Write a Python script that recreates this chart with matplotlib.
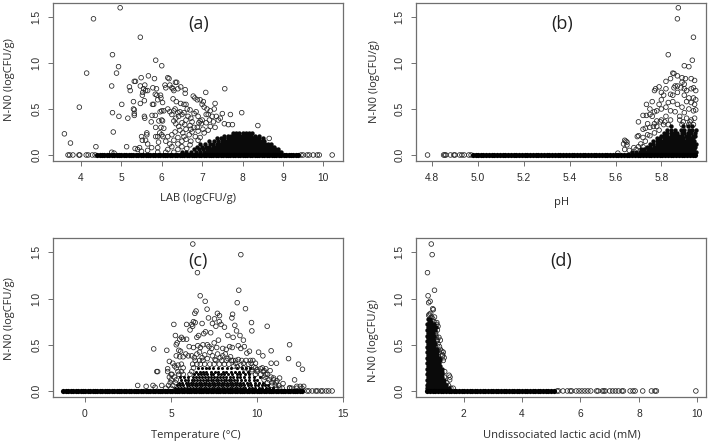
import matplotlib
matplotlib.use('Agg')
import matplotlib.pyplot as plt

plt.rcParams['font.family'] = ['Liberation Sans', 'DejaVu Sans']

W, H = 709, 444

# --- panel a: LAB ---
a_base = [4.4, 4.46, 4.52, 4.58, 4.64, 4.7, 4.76, 4.82, 4.88, 4.94,
          5.0, 5.06, 5.12, 5.18, 5.24, 5.3, 5.36, 5.42, 5.48, 5.54, 5.6, 5.66, 5.72, 5.78, 5.84, 5.9, 5.96, 6.02, 6.08,
          6.14, 6.2, 6.26, 6.32, 6.38, 6.44, 6.5, 6.56, 6.62, 6.68, 6.74, 6.8, 6.86, 6.92, 6.98, 7.04, 7.1, 7.16, 7.22,
          7.28, 7.34, 7.4, 7.46, 7.52, 7.58, 7.64, 7.7, 7.76, 7.82, 7.88, 7.94, 8.0, 8.06, 8.12, 8.18, 8.24, 8.3, 8.36,
          8.42, 8.48, 8.54, 8.6, 8.66, 8.72, 8.78, 8.84, 8.9, 8.96, 9.02, 9.08, 9.14, 9.2, 9.26, 9.32, 9.38]
a_tail = [3.68, 3.72, 3.8, 3.95, 3.97, 4.13, 4.18, 4.28, 4.35, 9.45, 9.5, 9.6, 9.65, 9.75, 9.85, 9.9, 10.22]
a_points = [(3.59,.23),(3.74,.13),(4.31,1.48),(4.97,1.60),(5.47,1.28),(4.78,1.09),(4.14,.89),(3.96,.52),(4.37,.09),
            (4.93,.96),(4.88,.89),(4.76,.75),(4.78,.46),(5.01,.55),(4.94,.42),(4.80,.25),(5.16,.40),(5.13,.09),(5.2,.74),
            (5.22,.70),(5.32,.80),(5.35,.80),(5.30,.58),(5.30,.50),(5.32,.49),(5.32,.45),(5.32,.43),(5.49,.84),(5.67,.86),
            (5.82,.83),(5.85,1.03),(6.0,.97),(5.47,.75),(5.55,.72),(5.58,.76),(5.53,.68),(5.60,.70),(5.65,.70),(5.52,.65),
            (5.78,.73),(5.87,.72),(5.47,.56),(5.57,.59),(5.77,.55),(5.80,.55),(5.84,.66),(5.88,.65),(5.90,.60),(5.97,.65),
            (5.98,.62),(6.02,.57),(5.96,.47),(6.0,.48),(6.05,.48),(5.57,.42),(5.58,.40),(5.76,.43),(5.84,.43),(5.74,.36),
            (5.85,.30),(5.93,.37),(6.0,.38),(6.02,.37),(5.98,.30),(6.05,.29),(5.63,.24),(5.63,.22),(5.50,.20),(5.52,.16),
            (5.6,.16),(5.65,.12),(5.75,.08),(5.85,.20),(5.9,.20),(5.92,.14),(5.95,.24),(6.0,.22),(6.03,.20),(5.9,.08),
            (5.4,.06),(5.34,.07),(5.45,.08),(5.5,.04),(5.65,.05),(4.76,.03),(4.82,.02),(6.15,.84),(6.18,.83),(6.08,.76),
            (6.1,.73),(6.2,.76),(6.25,.73),(6.28,.72),(6.3,.70),(6.34,.79),(6.37,.79),(6.4,.72),(6.47,.74),(6.58,.71),
            (6.58,.67),(6.28,.61),(6.36,.58),(6.47,.56),(6.55,.55),(6.6,.55),(6.63,.50),(6.7,.49),(6.78,.64),(6.82,.62),
            (6.88,.60),(6.95,.60),(7.03,.58),(7.09,.68),(7.56,.72),(7.32,.56),(7.0,.55),(7.05,.52),(7.12,.50),(7.2,.48),
            (7.3,.50),(7.5,.45),(7.7,.44),(7.98,.46),(8.38,.32),(7.1,.44),(7.15,.44),(6.15,.50),(6.2,.47),(6.25,.44),
            (6.3,.48),(6.33,.50),(6.4,.46),(6.45,.47),(6.5,.44),(6.55,.46),(6.6,.38),(6.35,.40),(6.42,.42),(6.3,.37),
            (6.35,.34),(6.5,.35),(6.57,.33),(6.65,.42),(6.72,.40),(6.8,.45),(6.85,.47),(6.92,.35),(6.95,.37),(6.98,.34),
            (6.88,.30),(6.8,.30),(6.7,.32),(6.6,.28),(6.45,.27),(6.33,.25),(6.25,.22),(6.15,.20),(6.1,.15),(6.2,.12),
            (6.3,.16),(6.4,.19),(6.55,.20),(6.6,.17),(6.68,.22),(6.75,.25),(6.83,.20),(7.25,.42),(7.35,.42),(7.4,.38),
            (7.45,.40),(7.55,.34),(7.65,.33),(7.75,.33),(7.28,.36),(7.18,.38),(7.1,.35),(6.9,.26),(7.02,.28),(7.0,.38),
            (6.75,.36),(6.42,.31),(6.52,.24),(6.72,.28),(6.9,.42),(7.2,.31),(5.9,.03),(6.1,.03),(6.3,.03),(6.15,.06),(6.4,.06),
            (6.25,.09),(6.5,.09),(6.4,.12),(6.5,.15),(6.72,.15),(6.9,.16),(6.62,.07),(6.7,.11),(6.95,.19),(8.66,.18),(7.15,.27),
            (7.32,.30),(7.05,.24)]
a_rows = [
    (.03, [6.5, 6.6, 6.72, 6.84, 6.95, 7.05, 7.13, 7.2, 7.28, 7.35, 7.42, 7.5, 7.57, 7.64, 7.71, 7.78, 7.85, 7.92, 7.99, 8.06, 8.13, 8.2, 8.27, 8.34, 8.41, 8.48, 8.55, 8.62, 8.69, 8.76, 8.83, 8.9, 8.96]),
    (.06, [6.8, 6.92, 7.03, 7.12, 7.2, 7.27, 7.34, 7.41, 7.48, 7.55, 7.62, 7.69, 7.76, 7.83, 7.9, 7.97, 8.04, 8.11, 8.18, 8.25, 8.32, 8.39, 8.46, 8.53, 8.6, 8.67, 8.74, 8.81, 8.87]),
    (.09, [6.88, 7.0, 7.1, 7.18, 7.26, 7.33, 7.4, 7.47, 7.54, 7.61, 7.68, 7.75, 7.82, 7.89, 7.96, 8.03, 8.1, 8.17, 8.24, 8.31, 8.38, 8.45, 8.52, 8.59, 8.66, 8.73, 8.79]),
    (.12, [6.95, 7.08, 7.2, 7.28, 7.36, 7.44, 7.51, 7.58, 7.65, 7.72, 7.79, 7.86, 7.93, 8.0, 8.07, 8.14, 8.21, 8.28, 8.35, 8.42, 8.49, 8.56, 8.63, 8.7]),
    (.15, [7.18, 7.3, 7.4, 7.48, 7.56, 7.63, 7.7, 7.77, 7.84, 7.91, 7.98, 8.05, 8.12, 8.19, 8.26, 8.33, 8.4, 8.47, 8.54]),
    (.18, [7.38, 7.47, 7.55, 7.63, 7.71, 7.78, 7.85, 7.92, 7.99, 8.06, 8.13, 8.2, 8.27, 8.34, 8.41, 8.5]),
    (.21, [7.55, 7.64, 7.72, 7.8, 7.87, 7.94, 8.01, 8.08, 8.15, 8.22, 8.3, 8.4]),
    (.24, [7.77, 7.85, 7.92, 8.0, 8.08, 8.16, 8.24]),
]

# --- panel b: pH ---
b_base = [4.98, 4.99, 5.0, 5.012, 5.024, 5.036,
          5.048, 5.06, 5.072, 5.084, 5.096, 5.108, 5.12, 5.132, 5.144, 5.156, 5.168, 5.18, 5.192, 5.204, 5.216, 5.228,
          5.24, 5.252, 5.264, 5.276, 5.288, 5.3, 5.312, 5.324, 5.336, 5.348, 5.36, 5.372, 5.384, 5.396, 5.408, 5.42,
          5.432, 5.444, 5.456, 5.468, 5.48, 5.492, 5.504, 5.516, 5.528, 5.54, 5.552, 5.564, 5.576, 5.588, 5.6, 5.612,
          5.624, 5.636, 5.648, 5.66, 5.672, 5.684, 5.696, 5.708, 5.72, 5.732, 5.744, 5.756, 5.768, 5.78, 5.792, 5.804,
          5.816, 5.828, 5.84, 5.852, 5.864, 5.876, 5.888, 5.9, 5.912, 5.924, 5.936, 5.948]
b_tail = [4.78, 4.85, 4.855, 4.86, 4.88, 4.895, 4.9, 4.92, 4.93, 4.94, 4.96, 4.97]
b_points = [(5.874,1.6),(5.87,1.48),(5.94,1.28),(5.83,1.09),(5.935,1.03),(5.90,.97),(5.92,.96),(5.85,.89),(5.855,.885),
            (5.87,.86),(5.84,.83),(5.82,.80),(5.89,.84),(5.905,.83),(5.93,.83),(5.945,.81),(5.89,.79),(5.90,.77),(5.86,.75),
            (5.87,.75),(5.855,.73),(5.885,.73),(5.90,.72),(5.91,.70),(5.93,.72),(5.94,.73),(5.95,.70),(5.79,.74),(5.775,.72),
            (5.77,.70),(5.82,.72),(5.80,.68),(5.81,.65),(5.84,.66),(5.85,.65),(5.87,.68),(5.90,.65),(5.92,.62),(5.94,.62),
            (5.95,.60),(5.80,.60),(5.79,.55),(5.83,.57),(5.85,.58),(5.87,.55),(5.89,.52),(5.91,.58),(5.93,.57),(5.945,.55),
            (5.76,.58),(5.735,.55),(5.75,.50),(5.77,.47),(5.78,.48),(5.80,.50),(5.82,.52),(5.84,.48),(5.86,.47),(5.88,.42),
            (5.90,.46),(5.92,.50),(5.94,.48),(5.95,.49),(5.72,.43),(5.735,.43),(5.75,.44),(5.76,.42),(5.70,.36),(5.74,.34),
            (5.77,.34),(5.78,.37),(5.80,.38),(5.82,.42),(5.84,.38),(5.88,.38),(5.91,.40),(5.93,.38),(5.945,.40),(5.72,.28),
            (5.73,.29),(5.75,.30),(5.78,.31),(5.81,.33),(5.83,.33),(5.89,.33),(5.92,.33),(5.94,.33),(5.70,.21),(5.695,.20),
            (5.64,.16),(5.645,.15),(5.65,.14),(5.635,.12),(5.65,.11),(5.64,.06),(5.61,.02),(5.72,.19),(5.74,.22),(5.66,.05),
            (5.68,.08),(5.70,.09),(5.69,.06),(5.71,.12),(5.73,.15),(5.72,.09),(5.75,.21),(5.77,.24),(5.79,.27),(5.765,.31),(5.795,.36),
            (5.815,.36),(5.895,.36),(5.925,.36)]
b_rows = [
    (.03, [5.67, 5.69, 5.705, 5.72, 5.735, 5.748, 5.76, 5.772, 5.784, 5.796, 5.808, 5.82, 5.832, 5.844, 5.856, 5.868, 5.88, 5.892, 5.904, 5.916, 5.928, 5.94, 5.95]),
    (.06, [5.71, 5.725, 5.74, 5.752, 5.764, 5.776, 5.788, 5.8, 5.812, 5.824, 5.836, 5.848, 5.86, 5.872, 5.884, 5.896, 5.908, 5.92, 5.932, 5.944]),
    (.09, [5.738, 5.752, 5.766, 5.778, 5.79, 5.802, 5.814, 5.826, 5.838, 5.85, 5.862, 5.874, 5.886, 5.898, 5.91, 5.922, 5.934, 5.948]),
    (.12, [5.75, 5.765, 5.78, 5.792, 5.804, 5.816, 5.828, 5.84, 5.852, 5.864, 5.876, 5.888, 5.9, 5.912, 5.924, 5.936, 5.95]),
    (.15, [5.765, 5.78, 5.795, 5.808, 5.82, 5.832, 5.844, 5.856, 5.868, 5.88, 5.892, 5.905, 5.918, 5.93, 5.944]),
    (.18, [5.78, 5.795, 5.81, 5.822, 5.834, 5.846, 5.858, 5.87, 5.882, 5.895, 5.91, 5.925, 5.94]),
    (.21, [5.798, 5.812, 5.826, 5.84, 5.852, 5.864, 5.878, 5.892, 5.908, 5.922, 5.936, 5.948]),
    (.24, [5.81, 5.825, 5.84, 5.855, 5.87, 5.89, 5.9, 5.915, 5.93, 5.945]),
    (.27, [5.825, 5.842, 5.86, 5.885, 5.9, 5.92, 5.935, 5.95]),
    (.31, [5.84, 5.895, 5.915, 5.935]),
]

# --- panel c: temperature ---
c_base = [-1.25, -1.1, -0.96, -0.82, -0.68, -0.54, -0.4, -0.26, -0.12, 0.02, 0.16, 0.3, 0.44, 0.58, 0.72, 0.86, 1.0, 1.14,
          1.28, 1.42, 1.56, 1.7, 1.84, 1.98, 2.12, 2.26, 2.4, 2.54, 2.68, 2.82, 2.96, 3.1, 3.24, 3.38, 3.52, 3.66, 3.8,
          3.94, 4.08, 4.22, 4.36, 4.5, 4.64, 4.78, 4.92, 5.06, 5.2, 5.34, 5.48, 5.62, 5.76, 5.9, 6.04, 6.18, 6.32, 6.46,
          6.6, 6.74, 6.88, 7.02, 7.16, 7.3, 7.44, 7.58, 7.72, 7.86, 8.0, 8.14, 8.28, 8.42, 8.56, 8.7, 8.84, 8.98, 9.12,
          9.26, 9.4, 9.54, 9.68, 9.82, 9.96, 10.1, 10.24, 10.38, 10.52, 10.66, 10.8, 10.94, 11.08, 11.22, 11.36, 11.5,
          11.64, 11.78, 11.92, 12.06, 12.2, 12.34, 12.48, 12.62]
c_tail = [12.9, 13.0, 13.2, 13.4, 13.5, 13.7, 13.8, 14.0, 14.15, 14.35]
c_points = [(6.26,1.59),(9.05,1.475),(6.53,1.28),(8.93,1.09),(6.69,1.03),(6.98,.97),(8.84,.955),(7.09,.885),(9.32,.89),
            (6.45,.865),(6.38,.84),(7.69,.84),(8.57,.83),(7.81,.815),(8.53,.79),(7.17,.79),(7.52,.78),(9.67,.74),(5.16,.72),
            (10.58,.70),(9.69,.65),(5.9,.72),(6.3,.75),(11.88,.50),(3.99,.455),(4.75,.44),(10.81,.435),(10.08,.42),(10.33,.38),
            (11.82,.35),(10.81,.30),(11.12,.30),(12.4,.29),(12.63,.235),(12.17,.12),(11.88,.035),(3.06,.06),(3.55,.05),
            (3.95,.06),(4.17,.21),(4.22,.21),(4.07,.04),(4.46,.06),(5.25,.60),(5.6,.58),(5.5,.56),(5.45,.44),(5.55,.43),
            (6.1,.66),(6.2,.72),(6.25,.70),(6.4,.74),(6.5,.58),(6.6,.60),(6.8,.73),(6.9,.62),(7.0,.64),(7.3,.63),(7.4,.73),
            (7.6,.70),(7.8,.75),(7.9,.72),(8.1,.69),(8.3,.60),(8.6,.58),(8.7,.71),(8.8,.65),(9.0,.60),(9.2,.55),(5.3,.50),
            (5.35,.52),(5.7,.56),(5.9,.56),(6.05,.48),(6.3,.47),(6.55,.49),(6.7,.47),(6.85,.50),(7.1,.50),(7.2,.48),(7.35,.46),
            (7.5,.52),(7.65,.47),(7.75,.55),(8.0,.46),(8.2,.45),(8.4,.48),(8.55,.47),(8.9,.49),(9.05,.46),(9.25,.48),(9.4,.41),
            (9.55,.43),(9.75,.33),(9.9,.30),(10.3,.25),(10.5,.24),(4.9,.32),(5.1,.30),(5.3,.38),(5.5,.37),(5.7,.37),(5.85,.40),
            (6.0,.38),(6.2,.38),(6.35,.36),(6.5,.40),(6.65,.42),(6.8,.36),(6.95,.39),(7.1,.35),(7.25,.42),(7.4,.38),(7.55,.34),
            (7.7,.40),(7.85,.36),(8.0,.38),(8.15,.40),(8.3,.35),(8.45,.37),(8.6,.33),(8.75,.30),(8.9,.34),(9.05,.28),(9.2,.30),
            (9.35,.33),(9.5,.29),(9.65,.30),(9.8,.26),(10.0,.23),(10.2,.24),(10.4,.22),(10.6,.18),(10.75,.22),(10.95,.14),
            (11.15,.11),(11.3,.14),(4.8,.24),(5.0,.18),(5.2,.27),(5.4,.28),(11.5,.08),(11.9,.03),(12.3,.05),(12.5,.05),(12.7,.05),
            (5.3,.25),(5.6,.29),(5.7,.25),(6.25,.29),(6.5,.29),(6.7,.29),(6.95,.29),(7.25,.29),(7.5,.29),(7.8,.29),(8.1,.29),
            (8.35,.29),(8.65,.27),(8.85,.26),(9.2,.25),(9.45,.24),(9.7,.23),(6.4,.33),(6.65,.33),(6.85,.33),(7.6,.33),(7.95,.33),
            (8.2,.33),(8.5,.33),(8.75,.33),(9.1,.33),(9.6,.33),(4.8,.21),(5.4,.21),(5.6,.21),(5.05,.18),(5.45,.18),(5.7,.18),
            (9.9,.18),(10.2,.18),(10.5,.18),(10.0,.21),(10.35,.21),(9.7,.21),(6.2,.21),(6.1,.18),(9.9,.25),(6.3,.25),(10.45,.15),
            (10.8,.15),(10.4,.12),(10.7,.12),(10.95,.12),(4.9,.15),(5.2,.15),(5.0,.12),(5.3,.12),(10.6,.09),(10.85,.09),(11.1,.09),
            (4.95,.09),(5.25,.09),(10.85,.06),(11.05,.06),(11.25,.06),(4.85,.06),(5.1,.06),(4.7,.03),(5.0,.03),(11.1,.03),(11.3,.03),
            (11.45,.03),(12.0,.03),(12.3,.03),(12.6,.03)]
c_rows = [
    (.03, [5.2, 5.4, 5.6, 5.75, 5.95, 6.1, 6.3, 6.45, 6.6, 6.75, 6.9, 7.05, 7.2, 7.35, 7.5, 7.65, 7.8, 7.95, 8.1, 8.25, 8.4, 8.55, 8.7, 8.85, 9.0, 9.15, 9.3, 9.5, 9.7, 9.9, 10.1, 10.3, 10.5, 10.7, 10.9]),
    (.06, [5.35, 5.5, 5.7, 5.9, 6.05, 6.2, 6.38, 6.52, 6.68, 6.82, 6.97, 7.12, 7.27, 7.42, 7.57, 7.72, 7.87, 8.02, 8.17, 8.32, 8.47, 8.62, 8.77, 8.92, 9.07, 9.25, 9.45, 9.65, 9.85, 10.05, 10.25, 10.45, 10.65]),
    (.09, [5.45, 5.65, 5.85, 6.0, 6.15, 6.3, 6.45, 6.6, 6.75, 6.9, 7.05, 7.2, 7.35, 7.5, 7.65, 7.8, 7.95, 8.1, 8.25, 8.4, 8.55, 8.7, 8.85, 9.0, 9.2, 9.4, 9.6, 9.85, 10.1, 10.35]),
    (.12, [5.55, 5.8, 6.0, 6.2, 6.35, 6.52, 6.68, 6.84, 7.0, 7.15, 7.3, 7.45, 7.6, 7.75, 7.9, 8.05, 8.2, 8.35, 8.5, 8.68, 8.85, 9.05, 9.3, 9.55, 9.8, 10.0]),
    (.15, [5.5, 5.75, 6.0, 6.25, 6.45, 6.6, 6.8, 6.95, 7.15, 7.3, 7.5, 7.65, 7.85, 8.0, 8.2, 8.4, 8.6, 8.8, 9.0, 9.25, 9.5, 9.8, 10.15]),
    (.18, [6.35, 6.55, 6.75, 6.9, 7.1, 7.3, 7.45, 7.7, 7.9, 8.1, 8.3, 8.55, 8.8, 9.0, 9.3, 9.55]),
    (.21, [6.45, 6.7, 6.85, 7.05, 7.3, 7.55, 7.75, 8.0, 8.2, 8.45, 8.7, 8.95, 9.2, 9.45]),
    (.25, [6.55, 6.8, 7.0, 7.2, 7.45, 7.7, 7.95, 8.25, 8.5, 8.8, 9.1, 9.35, 9.6]),
]

# --- panel d: undissociated lactic acid ---
d_base = [0.76, 0.85, 0.94, 1.03, 1.12, 1.21, 1.3, 1.39, 1.48, 1.57, 1.66, 1.75, 1.84, 1.93, 2.02, 2.11, 2.2, 2.29, 2.38,
          2.47, 2.56, 2.65, 2.74, 2.83, 2.92, 3.01, 3.1, 3.19, 3.28, 3.37, 3.46, 3.55, 3.64, 3.73, 3.82, 3.91, 4.0, 4.09,
          4.18, 4.27, 4.36, 4.45, 4.54, 4.63, 4.72, 4.81, 4.9, 4.99, 5.08]
d_tail = [5.2, 5.25, 5.4, 5.55, 5.65, 5.7, 5.85, 5.95, 6.05, 6.15, 6.25, 6.35, 6.55, 6.6, 6.75, 6.8, 6.85, 7.0, 7.1, 7.2,
          7.3, 7.42, 7.47, 7.7, 7.8, 7.87, 8.13, 8.43, 8.55, 8.6, 9.95]
d_points = [(0.89,1.59),(0.92,1.475),(0.76,1.28),(1.0,1.09),(0.78,1.03),(0.85,.97),(0.8,.955),(0.94,.89),(0.96,.88),
            (0.83,.83),(0.87,.84),(0.8,.82),(0.9,.80),(1.0,.80),(1.08,.74),(1.12,.70),(1.05,.58),(1.1,.55),(1.15,.58),
            (1.2,.55),(1.17,.48),(1.25,.43),(1.3,.42),(1.28,.38),(1.33,.36),(1.5,.17),(1.53,.15),(1.52,.12),(1.64,.03),(1.56,.03),
            (1.48,.06),(1.42,.09),(1.34,.15),(1.35,.21),(1.3,.33),(1.28,.39),(1.2,.45),(1.16,.42),(1.12,.51),(1.08,.54),(1.04,.63),
            (1.1,.66),(1.08,.72),(.98,.75),(.94,.78),(1.05,.60)]
d_rows = [
    (.03, [.76, .84, .92, 1.0, 1.08, 1.16, 1.24, 1.32, 1.4, 1.48]),
    (.06, [.76, .84, .92, 1.0, 1.08, 1.16, 1.24, 1.32, 1.4]),
    (.09, [.78, .86, .94, 1.02, 1.1, 1.18, 1.26, 1.34]),
    (.12, [.76, .84, .92, 1.0, 1.08, 1.16, 1.24, 1.32]),
    (.15, [.78, .86, .94, 1.02, 1.1, 1.18, 1.26]),
    (.18, [.76, .84, .92, 1.0, 1.08, 1.16, 1.24]),
    (.21, [.78, .86, .94, 1.02, 1.1, 1.18, 1.27]),
    (.24, [.76, .84, .92, 1.0, 1.08, 1.16, 1.24]),
    (.27, [.78, .86, .94, 1.02, 1.1, 1.2]),
    (.30, [.76, .84, .92, 1.0, 1.08, 1.16]),
    (.33, [.78, .86, .94, 1.02, 1.1, 1.2]),
    (.36, [.76, .84, .92, 1.0, 1.08, 1.16]),
    (.39, [.78, .86, .94, 1.02, 1.1]),
    (.42, [.76, .84, .92, 1.0, 1.08]),
    (.45, [.78, .86, .94, 1.02, 1.1]),
    (.48, [.76, .84, .92, 1.0]),
    (.51, [.78, .86, .94, 1.02]),
    (.54, [.76, .84, .92, 1.0]),
    (.57, [.78, .86, .94]),
    (.60, [.76, .84, .92, 1.0]),
    (.63, [.78, .86, .96]),
    (.66, [.76, .84, .92, 1.02]),
    (.69, [.78, .86, .94, 1.04]),
    (.72, [.76, .84, .92, 1.0]),
    (.75, [.8, .88]),
    (.78, [.78, .86]),
]

panels = [
    dict(box=(53.3, 2.7, 343.3, 160.7), xlim=(3.315, 10.495), xticks=[4, 5, 6, 7, 8, 9, 10],
         base=a_base, tail=a_tail, points=a_points, rows=a_rows, row_s=10, tag='(a)', tagpos=(199, 24),
         xlabel='LAB (logCFU/g)', xlabelpos=(198, 199), ylabelpos=(9.5, 80)),
    dict(box=(416.3, 2.7, 706.3, 160.7), xlim=(4.731, 5.996), xticks=[4.8, 5.0, 5.2, 5.4, 5.6, 5.8],
         base=b_base, tail=b_tail, points=b_points, rows=b_rows, row_s=10, tag='(b)', tagpos=(562, 24),
         xlabel='pH', xlabelpos=(562, 202), ylabelpos=(374.5, 82)),
    dict(box=(53.3, 238, 343.3, 396.7), xlim=(-1.84, 15.0), xticks=[0, 5, 10, 15],
         base=c_base, tail=c_tail, points=c_points, rows=c_rows, row_s=5, tag='(c)', tagpos=(198, 261),
         xlabel='Temperature (°C)', xlabelpos=(196, 435), ylabelpos=(9.5, 319)),
    dict(box=(416.3, 238, 706.3, 396.7), xlim=(0.377, 10.308), xticks=[2, 4, 6, 8, 10],
         base=d_base, tail=d_tail, points=d_points, rows=d_rows, row_s=10, tag='(d)', tagpos=(561, 261),
         xlabel='Undissociated lactic acid (mM)', xlabelpos=(562, 435), ylabelpos=(373.5, 341)),
]

fig = plt.figure(figsize=(W / 100, H / 100), dpi=100)
grey = '#6f6f6f'
txt = '#2b2b2b'

for p in panels:
    l, t, r, b = p['box']
    ax = fig.add_axes([l / W, 1 - b / H, (r - l) / W, (b - t) / H])
    # thin rings for the points that stand alone
    xs = list(p['tail']) + [q[0] for q in p['points']]
    ys = [0.0] * len(p['tail']) + [q[1] for q in p['points']]
    ax.scatter(xs, ys, s=11, facecolors='none', edgecolors='#222222', linewidths=0.55)
    # where the rings overplot to solid black, draw the points filled
    rx = []
    ry = []
    for yy, row in p['rows']:
        rx += row
        ry += [yy] * len(row)
    ax.scatter(rx, ry, s=p['row_s'], c='#0a0a0a', linewidths=0)
    ax.scatter(p['base'], [0.0] * len(p['base']), s=14, c='black', linewidths=0)
    ax.set_xlim(p['xlim'])
    ax.set_ylim(-0.062, 1.655)
    ax.set_xticks(p['xticks'])
    ax.set_yticks([0, 0.5, 1.0, 1.5])
    ax.set_yticklabels(['0.0', '0.5', '1.0', '1.5'], rotation=90, va='center')
    ax.tick_params(length=3.5, width=0.7, color=grey, labelcolor=txt, labelsize=7.4)
    ax.tick_params(axis='x', pad=5)
    ax.tick_params(axis='y', pad=5)
    for s in ax.spines.values():
        s.set_color(grey)
        s.set_linewidth(0.9)
    fig.text(p['tagpos'][0] / W, 1 - p['tagpos'][1] / H, p['tag'], fontsize=13, family='Open Sans',
             ha='center', va='center', color='#222222')
    fig.text(p['xlabelpos'][0] / W, 1 - p['xlabelpos'][1] / H, p['xlabel'], fontsize=8, family='Open Sans',
             ha='center', va='center', color=txt)
    fig.text(p['ylabelpos'][0] / W, 1 - p['ylabelpos'][1] / H, 'N-N0 (logCFU/g)', fontsize=8, family='Open Sans',
             ha='center', va='center', rotation=90, color=txt)

fig.savefig('out.png', dpi=100)
plt.close(fig)
